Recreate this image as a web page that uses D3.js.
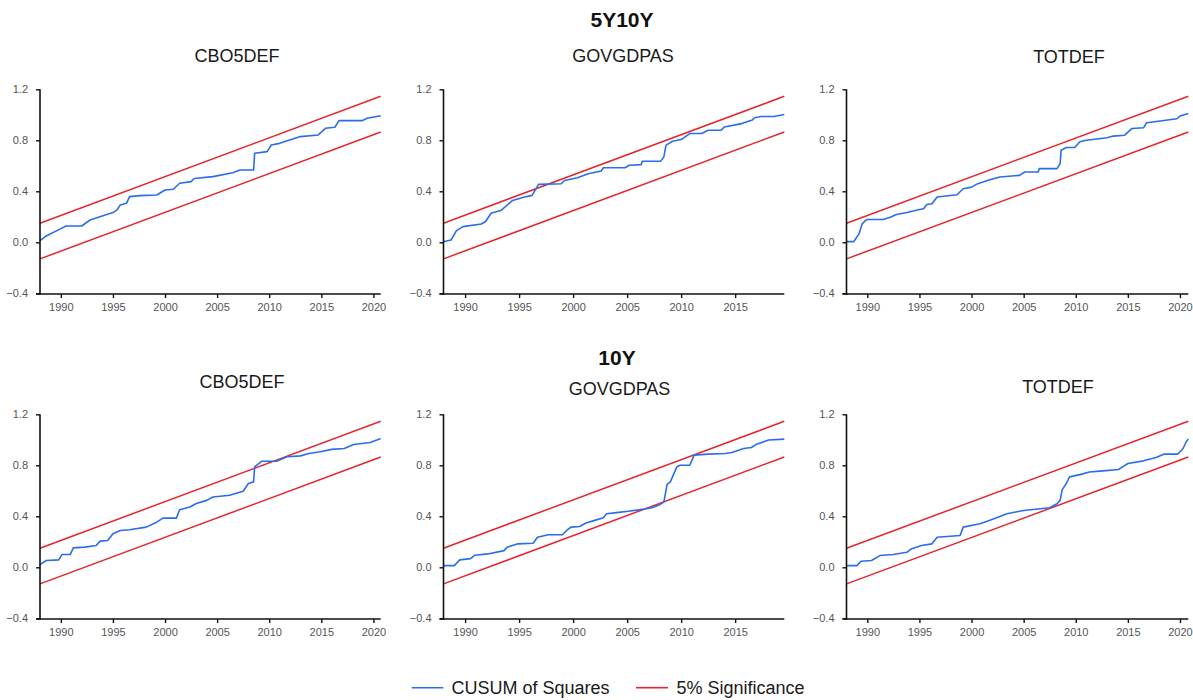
<!DOCTYPE html>
<html><head><meta charset="utf-8">
<script src="https://cdn.jsdelivr.net/npm/d3@7"></script>
<style>
body{margin:0;background:#fff;}
svg{display:block;font-family:"Liberation Sans",Arial,sans-serif;}
</style></head>
<body><svg id="c" width="1193" height="700"></svg>
<script>
// ---------- DATA ----------
const yTicks = [-0.4, 0.0, 0.4, 0.8, 1.2];
const xTicksFull = [1990, 1995, 2000, 2005, 2010, 2015, 2020];
const xTicksShort = [1990, 1995, 2000, 2005, 2010, 2015];
const groupTitles = ["5Y10Y", "10Y"];
const panelTitles = ["CBO5DEF", "GOVGDPAS", "TOTDEF"];
const legendLabels = ["CUSUM of Squares", "5% Significance"];

// sample spans [start, end] (years)
const spanLeft = [1988.0, 2020.7];
const spanMid = [1988.0, 2019.55];
const spanRight = [1988.0, 2020.8];

// 5% significance bounds: [startValue, endValue]
const upperBound = [0.15, 1.145];
const lowerBound = [-0.13, 0.865];

// CUSUM of squares [year, value]
const cusum5y10yCBO = [[1988.0,0.013],[1988.6,0.05],[1990.0,0.107],[1990.5,0.128],[1992.0,0.128],[1992.8,0.175],[1993.75,0.2],[1995.0,0.233],[1995.4,0.254],[1995.7,0.293],[1996.3,0.306],[1996.6,0.358],[1997.6,0.366],[1999.2,0.371],[2000.0,0.41],[2000.8,0.416],[2001.4,0.463],[2002.5,0.476],[2002.8,0.5],[2004.6,0.515],[2006.5,0.546],[2007.2,0.567],[2008.5,0.567],[2008.6,0.698],[2009.8,0.711],[2010.2,0.763],[2011.0,0.776],[2013.0,0.829],[2014.7,0.842],[2015.4,0.894],[2016.3,0.902],[2016.7,0.954],[2018.9,0.954],[2019.4,0.973],[2020.7,0.993]];
const cusum5y10yGOV = [[1988.0,0.005],[1988.7,0.018],[1989.2,0.092],[1989.8,0.123],[1991.5,0.144],[1991.9,0.163],[1992.4,0.228],[1993.3,0.249],[1994.4,0.328],[1995.5,0.355],[1996.2,0.368],[1996.8,0.454],[1998.9,0.459],[1999.2,0.485],[2000.4,0.507],[2001.4,0.538],[2002.6,0.559],[2002.8,0.585],[2004.8,0.585],[2005.2,0.604],[2006.3,0.609],[2006.4,0.636],[2008.1,0.636],[2008.4,0.67],[2008.6,0.762],[2009.2,0.793],[2010.0,0.806],[2010.8,0.853],[2011.9,0.853],[2012.5,0.879],[2013.7,0.879],[2014.0,0.905],[2015.6,0.931],[2016.6,0.96],[2016.8,0.977],[2017.4,0.987],[2018.6,0.987],[2019.55,1.003]];
const cusum5y10yTOT = [[1988.0,0.005],[1988.7,0.005],[1988.8,0.018],[1989.2,0.066],[1989.5,0.144],[1989.8,0.17],[1990.0,0.179],[1991.5,0.179],[1992.2,0.197],[1992.8,0.218],[1993.8,0.234],[1994.9,0.255],[1995.4,0.263],[1995.7,0.297],[1996.2,0.302],[1996.7,0.355],[1998.6,0.373],[1999.2,0.42],[2000.0,0.433],[2000.6,0.46],[2001.6,0.486],[2002.7,0.512],[2004.6,0.525],[2005.1,0.551],[2006.4,0.551],[2006.5,0.578],[2008.2,0.578],[2008.5,0.617],[2008.6,0.722],[2009.1,0.743],[2009.9,0.743],[2010.4,0.788],[2011.0,0.801],[2013.0,0.82],[2013.6,0.833],[2014.7,0.84],[2015.4,0.893],[2016.5,0.898],[2016.8,0.938],[2018.1,0.951],[2019.7,0.969],[2020.0,0.99],[2020.8,1.01]];
const cusum10yCBO = [[1988.0,0.021],[1988.6,0.053],[1989.8,0.058],[1990.1,0.1],[1990.9,0.1],[1991.2,0.152],[1992.3,0.158],[1993.4,0.171],[1993.75,0.205],[1994.5,0.21],[1995.0,0.263],[1995.7,0.289],[1996.6,0.294],[1998.2,0.315],[1999.2,0.354],[1999.8,0.386],[2001.1,0.386],[2001.4,0.452],[2002.4,0.473],[2003.0,0.5],[2004.0,0.525],[2004.6,0.551],[2006.2,0.565],[2007.5,0.596],[2008.0,0.657],[2008.5,0.67],[2008.6,0.788],[2009.3,0.832],[2010.7,0.832],[2011.7,0.867],[2013.0,0.874],[2013.8,0.893],[2014.9,0.906],[2016.0,0.925],[2017.2,0.932],[2018.1,0.963],[2019.7,0.979],[2020.7,1.01]];
const cusum10yGOV = [[1988.0,0.013],[1989.0,0.013],[1989.5,0.058],[1990.5,0.068],[1990.9,0.095],[1992.1,0.105],[1993.6,0.131],[1993.9,0.158],[1994.9,0.184],[1996.3,0.189],[1996.7,0.236],[1997.7,0.255],[1999.0,0.255],[1999.4,0.289],[1999.8,0.315],[2000.6,0.32],[2001.2,0.347],[2002.0,0.368],[2002.8,0.389],[2003.1,0.42],[2004.2,0.431],[2005.1,0.439],[2006.4,0.454],[2007.3,0.467],[2007.9,0.486],[2008.4,0.512],[2008.7,0.651],[2009.0,0.67],[2009.6,0.788],[2009.9,0.8],[2010.8,0.8],[2011.2,0.88],[2012.5,0.888],[2014.1,0.893],[2014.7,0.9],[2015.8,0.932],[2016.5,0.94],[2017.0,0.966],[2018.1,0.998],[2019.55,1.005]];
const cusum10yTOT = [[1988.0,0.013],[1989.0,0.013],[1989.4,0.047],[1990.4,0.053],[1991.2,0.092],[1992.5,0.1],[1993.8,0.118],[1994.2,0.144],[1995.2,0.171],[1996.2,0.184],[1996.7,0.236],[1998.9,0.249],[1999.2,0.315],[2000.8,0.341],[2001.5,0.362],[2002.4,0.389],[2003.4,0.42],[2005.0,0.446],[2007.5,0.467],[2008.2,0.499],[2008.5,0.525],[2008.7,0.609],[2009.1,0.657],[2009.4,0.709],[2010.4,0.727],[2011.3,0.748],[2012.6,0.756],[2014.1,0.767],[2014.5,0.788],[2015.0,0.814],[2016.5,0.835],[2017.7,0.861],[2018.5,0.888],[2019.8,0.888],[2020.3,0.932],[2020.6,0.985],[2020.8,1.006]];

// ---------- LAYOUT ----------
const BLUE = "#2a6cf0", RED = "#e3262d";
const svg = d3.select("#c");

const rows = [
  {top: 89.3, bottom: 293.3, title: groupTitles[0], titleX: 622, titleY: 26.5,
   sub: [{x:237, y:62}, {x:623, y:62}, {x:1069, y:63}]},
  {top: 414.3, bottom: 618.3, title: groupTitles[1], titleX: 617, titleY: 365,
   sub: [{x:242, y:388}, {x:619.5, y:395}, {x:1058, y:393}]}
];
const cols = [
  {x0: 40, x1: 380.7, span: spanLeft, ticks: xTicksFull},
  {x0: 443.5, x1: 784.3, span: spanMid, ticks: xTicksShort},
  {x0: 846.5, x1: 1188.3, span: spanRight, ticks: xTicksFull}
];
const series = [[cusum5y10yCBO, cusum5y10yGOV, cusum5y10yTOT],
                [cusum10yCBO, cusum10yGOV, cusum10yTOT]];

rows.forEach((r, ri) => {
  svg.append("text").attr("x", r.titleX).attr("y", r.titleY)
    .attr("text-anchor", "middle").attr("font-size", 21).attr("font-weight", "bold")
    .attr("fill", "#111").text(r.title);
  cols.forEach((c, ci) => {
    svg.append("text").attr("x", r.sub[ci].x).attr("y", r.sub[ci].y)
      .attr("text-anchor", "middle").attr("font-size", 18).attr("fill", "#1a1a1a")
      .text(panelTitles[ci]);

    const x = d3.scaleLinear().domain(c.span).range([c.x0, c.x1]);
    const y = d3.scaleLinear().domain([-0.4, 1.2]).range([r.bottom, r.top]);
    const g = svg.append("g");

    // significance bounds
    const line = d3.line().x(d => x(d[0])).y(d => y(d[1]));
    [upperBound, lowerBound].forEach(b => {
      g.append("path").datum([[c.span[0], b[0]], [c.span[1], b[1]]])
        .attr("d", line).attr("fill", "none").attr("stroke", RED).attr("stroke-width", 1.5);
    });
    g.append("path").datum(series[ri][ci]).attr("d", line)
      .attr("fill", "none").attr("stroke", BLUE).attr("stroke-width", 1.6)
      .attr("stroke-linejoin", "round");

    // axes
    const ya = d3.axisLeft(y).tickValues(yTicks).tickFormat(d3.format(".1f"))
      .tickSize(4).tickPadding(8);
    const yg = g.append("g").attr("transform", `translate(${c.x0},0)`).call(ya);
    const xa = d3.axisBottom(x).tickValues(c.ticks).tickFormat(d3.format("d"))
      .tickSize(4).tickPadding(5);
    const xg = g.append("g").attr("transform", `translate(0,${r.bottom + 0.7})`).call(xa);
    [yg, xg].forEach(a => {
      a.select(".domain").attr("stroke", "#111").attr("stroke-width", 1.6);
      a.selectAll(".tick line").attr("stroke", "#111").attr("stroke-width", 1.4);
      a.selectAll(".tick text").attr("fill", "#555").attr("font-size", 11)
        .attr("font-family", "'Liberation Sans',Arial,sans-serif");
    });
    yg.select(".domain").attr("d", `M0,${r.top}V${r.bottom + 1.5}`);
    xg.select(".domain").attr("d", `M${c.x0 - 4},0H${c.x1}`);
  });
});

// legend
const leg = svg.append("g");
const legItems = [
  {label: legendLabels[0], color: BLUE, x1: 411.7, x2: 443.3, tx: 451.5},
  {label: legendLabels[1], color: RED, x1: 636, x2: 668, tx: 676.5}
];
legItems.forEach(it => {
  leg.append("line").attr("x1", it.x1).attr("x2", it.x2).attr("y1", 687.7).attr("y2", 687.7)
    .attr("stroke", it.color).attr("stroke-width", 1.6);
  leg.append("text").attr("x", it.tx).attr("y", 694).attr("font-size", 18)
    .attr("fill", "#1a1a1a").text(it.label);
});
</script></body></html>
